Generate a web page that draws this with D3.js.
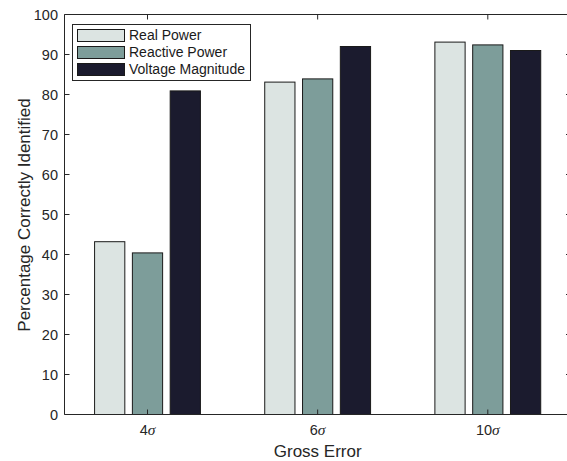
<!DOCTYPE html>
<html><head><meta charset="utf-8">
<script src="https://cdn.jsdelivr.net/npm/d3@7"></script>
<style>html,body{margin:0;padding:0;background:#fff;overflow:hidden}svg{display:block}</style>
</head><body>
<svg id="chart" width="567" height="461"></svg>
<script>
const categories = ["4", "6", "10"];
const seriesNames = ["Real Power", "Reactive Power", "Voltage Magnitude"];
const realPower = [43.2, 83.1, 93.1];
const reactivePower = [40.4, 83.9, 92.4];
const voltageMagnitude = [80.9, 92.0, 91.0];
const yTicks = [0, 10, 20, 30, 40, 50, 60, 70, 80, 90, 100];
const colors = ["#dce4e2", "#7d9d9a", "#1b1b2e"];

const seriesValues = [realPower, reactivePower, voltageMagnitude];
const svg = d3.select("#chart");
const font = "'Liberation Sans', Arial, Helvetica, sans-serif";
const L = 64.5, R = 571, T = 14.5, B = 414.5;

const y = d3.scaleLinear().domain([0, 100]).range([B, T]);
const x = d3.scalePoint().domain(categories).range([147.5, 487.8]);
const xs = d3.scaleBand().domain(seriesNames).range([-56.7, 56.7]).paddingInner(0.2).paddingOuter(0.1);

// bars
categories.forEach((c, ci) => {
  seriesNames.forEach((s, si) => {
    svg.append("rect")
      .attr("x", x(c) + xs(s))
      .attr("y", y(seriesValues[si][ci]))
      .attr("width", xs.bandwidth())
      .attr("height", y(0) - y(seriesValues[si][ci]))
      .attr("fill", colors[si])
      .attr("stroke", "#1a1a1a")
      .attr("stroke-width", 1);
  });
});

// box
const axc = "#262626";
svg.append("path").attr("d", `M${L},${T}H${R}V${B}H${L}Z`).attr("fill", "none").attr("stroke", axc).attr("stroke-width", 1);

// y ticks
yTicks.forEach(t => {
  svg.append("line").attr("x1", L).attr("x2", L + 5).attr("y1", y(t)).attr("y2", y(t)).attr("stroke", axc);
  svg.append("line").attr("x1", R).attr("x2", R - 5).attr("y1", y(t)).attr("y2", y(t)).attr("stroke", axc);
  svg.append("text").attr("x", 58).attr("y", y(t)).attr("dy", "0.36em")
    .attr("text-anchor", "end").attr("font-family", font).attr("font-size", 14.5).attr("fill", "#262626").text(t);
});

// x ticks
categories.forEach(c => {
  svg.append("line").attr("x1", x(c)).attr("x2", x(c)).attr("y1", B).attr("y2", B - 5).attr("stroke", axc);
  svg.append("line").attr("x1", x(c)).attr("x2", x(c)).attr("y1", T).attr("y2", T + 5).attr("stroke", axc);
  const tx = svg.append("text").attr("x", x(c)).attr("y", 435).attr("text-anchor", "middle")
    .attr("font-family", font).attr("font-size", 14.5).attr("fill", "#262626");
  tx.append("tspan").text(c);
  tx.append("tspan").attr("font-family", "'Liberation Serif', 'DejaVu Serif', serif").attr("font-style", "italic").attr("font-size", 15.5).text("σ");
});

// axis labels
svg.append("text").attr("x", 317.7).attr("y", 457).attr("text-anchor", "middle")
  .attr("font-family", font).attr("font-size", 17).attr("fill", "#262626").text("Gross Error");
svg.append("text").attr("transform", "translate(30,215) rotate(-90)").attr("text-anchor", "middle")
  .attr("font-family", font).attr("font-size", 17).attr("fill", "#262626").text("Percentage Correctly Identified");

// legend
const lg = svg.append("g");
lg.append("rect").attr("x", 72.5).attr("y", 24.5).attr("width", 178).attr("height", 56)
  .attr("fill", "#fff").attr("stroke", axc).attr("stroke-width", 1);
seriesNames.forEach((s, i) => {
  const ry = 29.5 + i * 17;
  lg.append("rect").attr("x", 77.5).attr("y", ry).attr("width", 47).attr("height", 12)
    .attr("fill", colors[i]).attr("stroke", "#1a1a1a").attr("stroke-width", 1);
  lg.append("text").attr("x", 129).attr("y", ry + 10.5).attr("font-family", font).attr("font-size", 14)
    .attr("fill", "#1a1a1a").text(s);
});
</script>
</body></html>
